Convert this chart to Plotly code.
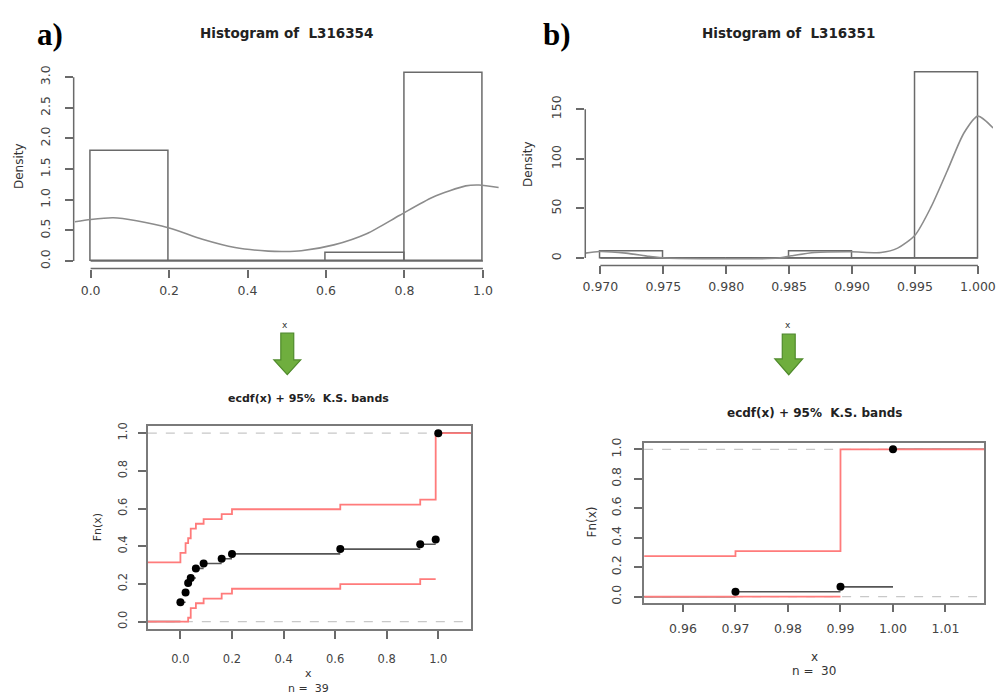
import plotly.graph_objects as go

W, H = 996, 697

# ---------------- data ----------------
# (a) histogram of L316354
hist_a_edges = [0.0, 0.2, 0.4, 0.6, 0.8, 1.0]
hist_a_counts = [14, 0, 0, 1, 24]
hist_a_n = 39
dens_a_x = [-0.04, 0.0, 0.058, 0.117, 0.2, 0.285, 0.368, 0.453, 0.495, 0.537,
            0.62, 0.705, 0.788, 0.872, 0.956, 0.99, 1.04]
dens_a_y = [0.64, 0.677, 0.705, 0.656, 0.54, 0.355, 0.22, 0.161, 0.155, 0.167,
            0.263, 0.45, 0.747, 1.04, 1.226, 1.24, 1.20]
hist_a_xticks = [0.0, 0.2, 0.4, 0.6, 0.8, 1.0]
hist_a_yticks = [0.0, 0.5, 1.0, 1.5, 2.0, 2.5, 3.0]

# (b) histogram of L316351
hist_b_edges = [0.970, 0.975, 0.980, 0.985, 0.990, 0.995, 1.000]
hist_b_counts = [1, 0, 0, 1, 0, 28]
hist_b_n = 30
dens_b_x = [0.96881, 0.96992, 0.97203, 0.97387, 0.97519, 0.98414, 0.98519, 0.98704,
            0.98993, 0.99230, 0.99362, 0.995, 0.99626, 0.99757, 0.99889, 1.0, 1.00121]
dens_b_y = [5.0, 6.6, 5.0, 1.7, 0.0, 0.0, 2.3, 5.6, 6.3, 5.6, 10, 23, 51, 88, 126, 143, 131]
hist_b_xticks = [0.970, 0.975, 0.980, 0.985, 0.990, 0.995, 1.000]
hist_b_yticks = [0, 50, 100, 150]

# (a) ecdf + K.S. bands
ecdf_a_knots = [0.0, 0.02, 0.03, 0.04, 0.06, 0.09, 0.16, 0.20, 0.62, 0.93, 0.99, 1.00]
ecdf_a_cum = [4, 6, 8, 9, 11, 12, 13, 14, 15, 16, 17, 39]
ecdf_a_n = 39
ks_a_upper = [0.314, 0.365, 0.416, 0.442, 0.493, 0.519, 0.544, 0.570, 0.596, 0.621, 0.647, 1.0, 1.0]
ks_a_lower = [0.0, 0.0, 0.0, 0.020, 0.071, 0.097, 0.122, 0.148, 0.174, 0.199, 0.225]
ecdf_a_xticks = [0.0, 0.2, 0.4, 0.6, 0.8, 1.0]

# (b) ecdf + K.S. bands
ecdf_b_knots = [0.97, 0.99, 1.00]
ecdf_b_cum = [1, 2, 30]
ecdf_b_n = 30
ks_b_upper = [0.275, 0.309, 1.0, 1.0]
ks_b_lower = [0.0, 0.0]
ecdf_b_xticks = [0.96, 0.97, 0.98, 0.99, 1.00, 1.01]

ecdf_yticks = [0.0, 0.2, 0.4, 0.6, 0.8, 1.0]
ref_levels = [0, 1]

# ---------------- helpers ----------------
def dx(p0, p1):
    return [p0 / W, p1 / W]

def dy(p0, p1):
    return [1 - p1 / H, 1 - p0 / H]

def px(x):
    return x / W

def py(y):
    return 1 - y / H

FONT = "DejaVu Sans"
TICKC = "#444"
LINEC = "#6a6a6a"
RED = "#ff7b7b"

fig = go.Figure()

def add_hist(edges, counts, n, dxs, dys, xa, ya):
    centers = [(edges[i] + edges[i + 1]) / 2 for i in range(len(counts))]
    widths = [edges[i + 1] - edges[i] for i in range(len(counts))]
    dens = [counts[i] / (n * widths[i]) for i in range(len(counts))]
    fig.add_trace(go.Bar(x=centers, y=dens, width=widths, base=0,
                         marker=dict(color="rgba(255,255,255,0)",
                                     line=dict(color=LINEC, width=1.5)),
                         xaxis=xa, yaxis=ya, showlegend=False))
    fig.add_trace(go.Scatter(x=[edges[0], edges[-1]], y=[0, 0], mode="lines",
                             line=dict(color=LINEC, width=1.5),
                             xaxis=xa, yaxis=ya, showlegend=False))
    fig.add_trace(go.Scatter(x=dxs, y=dys, mode="lines",
                             line=dict(color="#8c8c8c", width=1.6, shape="spline", smoothing=0.7),
                             xaxis=xa, yaxis=ya, showlegend=False, cliponaxis=True))

add_hist(hist_a_edges, hist_a_counts, hist_a_n, dens_a_x, dens_a_y, "x", "y")
add_hist(hist_b_edges, hist_b_counts, hist_b_n, dens_b_x, dens_b_y, "x2", "y2")

def add_ecdf(knots, cum, n, upper, lower, xr, xa, ya):
    F = [c / n for c in cum]
    sx, sy = [xr[0], knots[0], None], [0, 0, None]
    for i in range(len(knots)):
        nxt = knots[i + 1] if i + 1 < len(knots) else xr[1]
        sx += [knots[i], nxt, None]
        sy += [F[i], F[i], None]
    fig.add_trace(go.Scatter(x=sx, y=sy, mode="lines",
                             line=dict(color="#555555", width=1.6),
                             xaxis=xa, yaxis=ya, showlegend=False))
    ux = [xr[0]] + knots[:len(upper) - 1] + [xr[1]]
    uy = upper + [upper[-1]]
    fig.add_trace(go.Scatter(x=ux, y=uy, mode="lines",
                             line=dict(color=RED, width=1.8, shape="hv"),
                             xaxis=xa, yaxis=ya, showlegend=False))
    lx = [xr[0]] + knots[:len(lower) - 1] + [knots[len(lower) - 1]]
    ly = lower + [lower[-1]]
    fig.add_trace(go.Scatter(x=lx, y=ly, mode="lines",
                             line=dict(color=RED, width=1.8, shape="hv"),
                             xaxis=xa, yaxis=ya, showlegend=False))
    fig.add_trace(go.Scatter(x=knots, y=F, mode="markers",
                             marker=dict(color="black", size=8),
                             xaxis=xa, yaxis=ya, showlegend=False))

xr_a = [-0.1264, 1.1264]
xr_b = [0.9526, 1.0174]
yr_e = [-0.04, 1.04]
add_ecdf(ecdf_a_knots, ecdf_a_cum, ecdf_a_n, ks_a_upper, ks_a_lower, xr_a, "x3", "y3")
add_ecdf(ecdf_b_knots, ecdf_b_cum, ecdf_b_n, ks_b_upper, ks_b_lower, xr_b, "x4", "y4")

# ---------------- axes ----------------
def hist_axes():
    return dict(showgrid=False, zeroline=False, showline=False, ticks="outside",
                ticklen=8, tickcolor=LINEC, tickwidth=1.5, ticklabeloverflow="allow",
                tickfont=dict(family=FONT, size=12.5, color=TICKC))

ax_a_x = hist_axes(); ax_a_x.update(domain=dx(71.1, 499.9), range=[-0.0432, 1.0432],
        tickvals=hist_a_xticks, ticktext=[f"{v:.1f}" for v in hist_a_xticks],
        anchor="y", ticklabelstandoff=2)
ax_a_y = hist_axes(); ax_a_y.update(domain=dy(59.6, 265.6), range=[-0.123, 3.2],
        tickvals=hist_a_yticks, ticktext=[f"{v:.1f}" for v in hist_a_yticks],
        anchor="x", tickangle=-90, ticklabelstandoff=10)
ax_b_x = hist_axes(); ax_b_x.update(domain=dx(585.8, 996), range=[0.9688, 1.0012],
        tickvals=hist_b_xticks, ticktext=[f"{v:.3f}" for v in hist_b_xticks],
        anchor="y2", ticklabelstandoff=2)
ax_b_y = hist_axes(); ax_b_y.update(domain=dy(60.1, 262.5), range=[-7.47, 194.13],
        tickvals=hist_b_yticks, ticktext=[str(v) for v in hist_b_yticks],
        anchor="x2", tickangle=-90, ticklabelstandoff=10)

def ecdf_axes(size):
    return dict(showgrid=False, zeroline=False, showline=True, mirror=True,
                linecolor="#7a7a7a", linewidth=1.5, ticks="outside", ticklen=8,
                tickcolor=LINEC, tickwidth=1.5, ticklabeloverflow="allow",
                tickfont=dict(family=FONT, size=size, color=TICKC))

ax_c_x = ecdf_axes(11.5); ax_c_x.update(domain=dx(145.7, 470.7), range=xr_a,
        tickvals=ecdf_a_xticks, ticktext=[f"{v:.1f}" for v in ecdf_a_xticks],
        anchor="y3", ticklabelstandoff=10)
ax_c_y = ecdf_axes(11.5); ax_c_y.update(domain=dy(424.5, 630.3), range=yr_e,
        tickvals=ecdf_yticks, ticktext=[f"{v:.1f}" for v in ecdf_yticks],
        anchor="x3", tickangle=-90, ticklabelstandoff=6)
ax_d_x = ecdf_axes(12.5); ax_d_x.update(domain=dx(645, 987.3), range=xr_b,
        tickvals=ecdf_b_xticks, ticktext=[f"{v:.2f}" for v in ecdf_b_xticks],
        anchor="y4", ticklabelstandoff=6)
ax_d_y = ecdf_axes(12.5); ax_d_y.update(domain=dy(442.5, 603.5), range=yr_e,
        tickvals=ecdf_yticks, ticktext=[f"{v:.1f}" for v in ecdf_yticks],
        anchor="x4", tickangle=-90, ticklabelstandoff=8)

# ---------------- shapes ----------------
shapes = []
for xa, ya, xt, yt in [("x", "y", hist_a_xticks, hist_a_yticks),
                       ("x2", "y2", hist_b_xticks, hist_b_yticks)]:
    shapes.append(dict(type="line", xref=xa, yref=f"{ya} domain", x0=xt[0], x1=xt[-1],
                       y0=0, y1=0, line=dict(color=LINEC, width=1.5)))
    shapes.append(dict(type="line", xref=f"{xa} domain", yref=ya, x0=0, x1=0,
                       y0=yt[0], y1=yt[-1], line=dict(color=LINEC, width=1.5)))
for xa, ya in [("x3", "y3"), ("x4", "y4")]:
    for lv in ref_levels:
        shapes.append(dict(type="line", xref=f"{xa} domain", yref=ya, x0=0, x1=1,
                           y0=lv, y1=lv, layer="below",
                           line=dict(color="#c8c8c8", width=1.2, dash="dash")))

def arrow(cx, shaft_top, head_top, tip, sh, hh):
    pts = [(cx - sh, shaft_top), (cx + sh, shaft_top), (cx + sh, head_top),
           (cx + hh, head_top), (cx, tip), (cx - hh, head_top), (cx - sh, head_top)]
    path = "M " + " L ".join(f"{px(a):.5f},{py(b):.5f}" for a, b in pts) + " Z"
    return dict(type="path", xref="paper", yref="paper", path=path,
                fillcolor="#6fae3e", line=dict(color="#4f8a2b", width=1.2))

shapes.append(arrow(286, 331, 358, 373, 6.5, 13.5))
shapes.append(arrow(790.5, 332, 357, 373, 6.5, 14))

# ---------------- annotations ----------------
ann = []
def text(t, x, y, size, bold=False, angle=0, family=FONT, color="#222"):
    ann.append(dict(text=(f"<b>{t}</b>" if bold else t), x=px(x), y=py(y),
                    xref="paper", yref="paper", showarrow=False, textangle=angle,
                    xanchor="center", yanchor="middle",
                    font=dict(family=family, size=size, color=color)))

text("a)", 47, 29, 31, bold=True, family="Liberation Serif", color="black")
text("b)", 557, 29, 31, bold=True, family="Liberation Serif", color="black")
text("Histogram of\u00a0 L316354", 285, 27, 13.5, bold=True)
text("Histogram of\u00a0 L316351", 790, 27, 13.5, bold=True)
text("Density", 16, 162, 12, angle=-90, color="#333")
text("Density", 528, 160, 12, angle=-90, color="#333")
text("x", 284, 323, 9, color="#333")
text("x", 790, 323, 9, color="#333")
text("ecdf(x) + 95%\u00a0 K.S. bands", 307, 397, 11, bold=True)
text("ecdf(x) + 95%\u00a0 K.S. bands", 816, 412, 12, bold=True)
text("Fn(x)", 96, 527, 11, angle=-90, color="#333")
text("Fn(x)", 593, 522, 12, angle=-90, color="#333")
text("x", 307, 675, 11, color="#333")
text(f"n =\u00a0 {ecdf_a_n}", 307, 690, 11, color="#333")
text("x", 816, 659, 12, color="#333")
text(f"n =\u00a0 {ecdf_b_n}", 816, 673, 12, color="#333")

fig.update_layout(
    width=W, height=H, margin=dict(l=0, r=0, t=0, b=0),
    paper_bgcolor="white", plot_bgcolor="rgba(0,0,0,0)",
    barmode="overlay", bargap=0,
    xaxis=ax_a_x, yaxis=ax_a_y, xaxis2=ax_b_x, yaxis2=ax_b_y,
    xaxis3=ax_c_x, yaxis3=ax_c_y, xaxis4=ax_d_x, yaxis4=ax_d_y,
    shapes=shapes, annotations=ann, showlegend=False,
)

fig.write_html("out.html", config={"displayModeBar": False},
               post_script="document.body.style.margin='0';document.body.style.overflow='hidden';")
